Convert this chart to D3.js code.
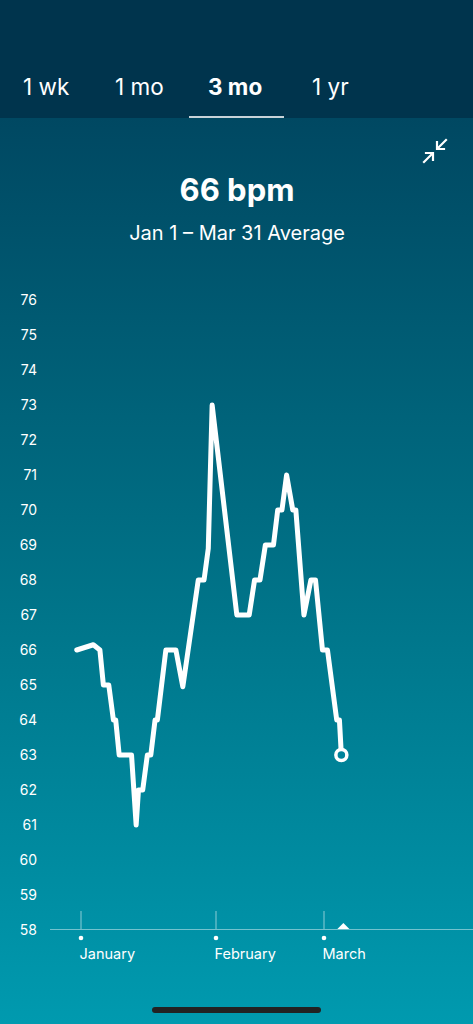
<!DOCTYPE html>
<html><head><meta charset="utf-8">
<script src="https://cdn.jsdelivr.net/npm/d3@7"></script>
<style>
html,body{margin:0;padding:0;background:#00344d;}
svg{display:block;font-family:Inter,"Noto Sans",sans-serif;}
</style></head>
<body><svg id="c" width="473" height="1024"></svg>
<script>
// ---- data ----
const tabs = ["1 wk", "1 mo", "3 mo", "1 yr"];
const activeTab = "3 mo";
const title = "66 bpm";
const subtitle = "Jan 1 \u2013 Mar 31 Average";
const yTicks = [58,59,60,61,62,63,64,65,66,67,68,69,70,71,72,73,74,75,76];
const monthLabels = ["January", "February", "March"];
const monthDays = [0, 35, 63];
// day offset from January tick, bpm value
const days = [-1.1, 3.2, 4.9, 5.8, 7.2, 8.4, 9.0, 9.9, 13.1, 14.3, 14.9, 16.0, 17.2, 18.1, 19.2, 19.8, 22.0, 24.6, 26.4,
  30.4, 31.9, 33.0, 34.0, 40.4, 43.6, 45.0, 46.4, 47.8, 49.9, 51.0, 52.1, 53.3, 54.9, 55.7, 57.8, 59.6, 60.8, 62.6, 63.9, 66.3, 67.0, 67.5];
const bpm = [66.0, 66.15, 66.0, 65.0, 65.0, 64.0, 64.0, 63.0, 63.0, 61.0, 62.0, 62.0, 63.0, 63.0, 64.0, 64.0, 66.0, 66.0, 64.95,
  68.0, 68.0, 68.9, 73.0, 67.0, 67.0, 68.0, 68.0, 69.0, 69.0, 70.0, 70.0, 71.0, 70.0, 70.0, 67.0, 68.0, 68.0, 66.0, 66.0, 64.0, 64.0, 63.0];

const svg = d3.select("#c");
const W = 473, H = 1024;

// background
const defs = svg.append("defs");
const g1 = defs.append("linearGradient").attr("id","bg").attr("x1",0).attr("y1",0).attr("x2",0).attr("y2",1);
g1.append("stop").attr("offset","0%").attr("stop-color","#004862");
g1.append("stop").attr("offset","55%").attr("stop-color","#00758a");
g1.append("stop").attr("offset","100%").attr("stop-color","#009aaf");
svg.append("rect").attr("x",0).attr("y",118).attr("width",W).attr("height",H-118).attr("fill","url(#bg)");
svg.append("rect").attr("x",0).attr("y",0).attr("width",W).attr("height",118).attr("fill","#00344d");

// tabs
const tabX = [23, 115, 208, 312];
svg.selectAll("text.tab").data(tabs).enter().append("text")
  .attr("class","tab")
  .attr("x",(d,i)=>tabX[i]).attr("y",95)
  .attr("fill","#fff")
  .attr("font-size",22.5)
  .attr("font-weight",d=>d===activeTab?700:400)
  .text(d=>d);
svg.append("rect").attr("x",189).attr("y",116).attr("width",95).attr("height",2).attr("fill","#c8d2d8");

// compress icon
const ic = svg.append("g").attr("stroke","#fff").attr("stroke-width",2.2).attr("fill","none").attr("stroke-linecap","square");
ic.append("line").attr("x1",446).attr("y1",140).attr("x2",438).attr("y2",148);
ic.append("polyline").attr("points","437,142 437,149 444,149");
ic.append("line").attr("x1",424).attr("y1",162).attr("x2",432).attr("y2",154);
ic.append("polyline").attr("points","426,153 433,153 433,160");

// title
svg.append("text").attr("x",237).attr("y",201).attr("text-anchor","middle").attr("fill","#fff")
  .attr("font-size",31).attr("font-weight",700).text(title);
svg.append("text").attr("x",237).attr("y",240).attr("text-anchor","middle").attr("fill","#fff")
  .attr("font-size",20).text(subtitle);

// scales
const y = d3.scaleLinear().domain([58,76]).range([930,300]);
const x = d3.scaleLinear().domain([0,63]).range([81,324]);

// y labels
svg.selectAll("text.yl").data(yTicks).enter().append("text")
  .attr("class","yl").attr("x",37).attr("y",d=>y(d)+5)
  .attr("text-anchor","end").attr("fill","#fff").attr("font-size",14).text(d=>d);

// x axis
svg.append("line").attr("x1",50).attr("x2",W).attr("y1",929.5).attr("y2",929.5)
  .attr("stroke","#ffffff").attr("stroke-opacity",0.45).attr("stroke-width",1);
const mt = svg.selectAll("g.mt").data(monthDays).enter().append("g").attr("class","mt");
mt.append("line").attr("x1",d=>x(d)).attr("x2",d=>x(d)).attr("y1",911).attr("y2",929)
  .attr("stroke","#fff").attr("stroke-opacity",0.55).attr("stroke-width",1);
mt.append("circle").attr("cx",d=>x(d)).attr("cy",938).attr("r",2.3).attr("fill","#fff");
mt.append("text").attr("x",d=>x(d)-1.5).attr("y",959).attr("fill","#fff").attr("font-size",14.5)
  .text((d,i)=>monthLabels[i]);

// current marker triangle
const lastDay = days[days.length-1];
const tx = x(lastDay) + 2;
svg.append("path").attr("d",`M${tx-6},929 L${tx},923 L${tx+6},929 Z`).attr("fill","#fff");

// line
const pts = days.map((d,i)=>[d,bpm[i]]);
const line = d3.line().x(d=>x(d[0])).y(d=>y(d[1])).curve(d3.curveLinear);
svg.append("path").datum(pts).attr("d",line).attr("fill","none").attr("stroke","#fff")
  .attr("stroke-width",5).attr("stroke-linejoin","round").attr("stroke-linecap","round");
const last = pts[pts.length-1];
svg.append("circle").attr("cx",x(last[0])).attr("cy",y(last[1])).attr("r",5.5)
  .attr("fill","#00839a").attr("stroke","#fff").attr("stroke-width",3.5);

// home indicator
svg.append("rect").attr("x",152).attr("y",1007).attr("width",169).attr("height",6).attr("rx",3).attr("fill","#222");
</script></body></html>
